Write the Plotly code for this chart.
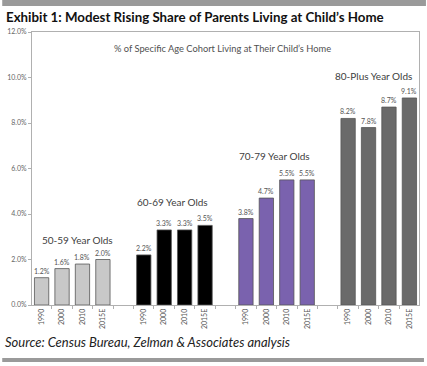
import plotly.graph_objects as go

groups = ["50-59 Year Olds", "60-69 Year Olds", "70-79 Year Olds", "80-Plus Year Olds"]
years = ["1990", "2000", "2010", "2015E"]
share_50_59 = [1.2, 1.6, 1.8, 2.0]
share_60_69 = [2.2, 3.3, 3.3, 3.5]
share_70_79 = [3.8, 4.7, 5.5, 5.5]
share_80_plus = [8.2, 7.8, 8.7, 9.1]
series = [share_50_59, share_60_69, share_70_79, share_80_plus]
colors = ["#c8c8c8", "#000000", "#7a62ae", "#6a6a6a"]
y_ticks = [0, 2, 4, 6, 8, 10, 12]
y_tick_labels = ["0.0%", "2.0%", "4.0%", "6.0%", "8.0%", "10.0%", "12.0%"]

title = "Exhibit 1: Modest Rising Share of Parents Living at Child\u2019s Home"
subtitle = "% of Specific Age Cohort Living at Their Child\u2019s Home"
source = "Source: Census Bureau, Zelman & Associates analysis"

FONT = "Lato"
W, H = 427, 366
L, R, T, B = 30, 7, 32, 61
PW, PH = W - L - R, H - T - B

def px(x):
    return (x - L) / PW

def py(y):
    return (H - B - y) / PH

fig = go.Figure()
tickvals, ticktext = [], []
for g, vals in enumerate(series):
    xs = [g * 5 + i for i in range(len(vals))]
    tickvals += xs
    ticktext += years
    fig.add_trace(go.Bar(
        x=xs, y=vals,
        marker=dict(color=colors[g], line=dict(color="#555555", width=0.8)),
        width=0.7,
        showlegend=False,
        hoverinfo="skip",
    ))
    for xv, v in zip(xs, vals):
        fig.add_annotation(x=xv, y=v, xref="x", yref="y",
                           text=f"{v:.1f}%", showarrow=False,
                           xanchor="center", yanchor="bottom", yshift=1,
                           font=dict(family=FONT, size=7, color="#555555"))

fig.update_layout(
    width=W, height=H,
    margin=dict(l=L, r=R, t=T, b=B),
    paper_bgcolor="white", plot_bgcolor="white",
    font=dict(family=FONT),
    xaxis=dict(
        range=[-0.47, 18.47],
        tickvals=tickvals, ticktext=ticktext,
        tickangle=-90,
        ticks="", showgrid=False, zeroline=False,
        tickfont=dict(family=FONT, size=7, color="#555555"),
        showline=True, linecolor="#b0b0b0", linewidth=1, mirror=True,
        minor=dict(tick0=0.5, dtick=1, ticks="outside", ticklen=3,
                   tickcolor="#b0b0b0", showgrid=False),
    ),
    yaxis=dict(
        range=[0, 12],
        tickvals=y_ticks, ticktext=y_tick_labels,
        ticks="outside", ticklen=3, tickcolor="#b0b0b0",
        showgrid=False, zeroline=False,
        tickfont=dict(family=FONT, size=7, color="#666666"),
        showline=True, linecolor="#b0b0b0", linewidth=1, mirror=True,
    ),
)

group_label_pos = [(76, 240), (172, 202), (274, 156), (374, 76)]
for name, (gx, gy) in zip(groups, group_label_pos):
    fig.add_annotation(x=px(gx), y=py(gy), xref="paper", yref="paper",
                       xanchor="center", yanchor="middle",
                       text=name, showarrow=False,
                       font=dict(family=FONT, size=10, color="#404040"))

fig.add_annotation(x=px(222), y=py(48), xref="paper", yref="paper",
                   xanchor="center", yanchor="middle",
                   text=subtitle, showarrow=False,
                   font=dict(family=FONT, size=9.3, color="#505050"))

fig.add_annotation(x=px(2), y=py(17), xref="paper", yref="paper",
                   xanchor="left", yanchor="middle",
                   text="<b>" + title + "</b>", showarrow=False,
                   font=dict(family=FONT, size=13.3, color="#111111"))

fig.add_annotation(x=px(1), y=py(342), xref="paper", yref="paper",
                   xanchor="left", yanchor="middle",
                   text="<i>" + source + "</i>", showarrow=False,
                   font=dict(family=FONT, size=13, color="#222222"))

fig.add_shape(type="rect", xref="paper", yref="paper",
              x0=px(0), x1=px(W), y0=py(0), y1=py(6),
              fillcolor="#9a9a9a", line=dict(width=0), layer="above")
fig.add_shape(type="rect", xref="paper", yref="paper",
              x0=px(0), x1=px(425), y0=py(358), y1=py(362),
              fillcolor="#9a9a9a", line=dict(width=0), layer="above")

fig.write_html("out.html", config={"displayModeBar": False},
               post_script="document.body.style.margin='0';")
